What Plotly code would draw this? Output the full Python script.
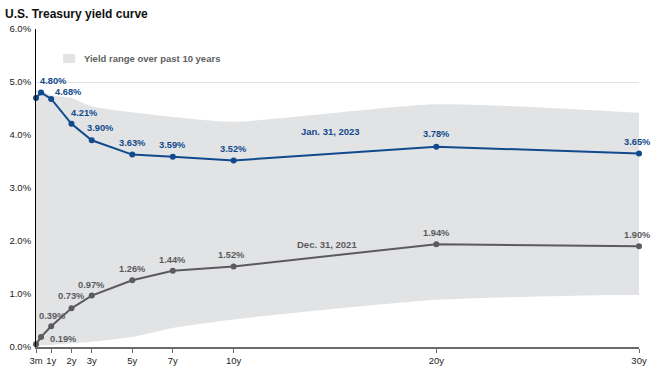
import plotly.graph_objects as go

# ---------------- data ----------------
maturities = [0.25, 0.5, 1, 2, 3, 5, 7, 10, 20, 30]
jan_2023 = [4.70, 4.80, 4.68, 4.21, 3.90, 3.63, 3.59, 3.52, 3.78, 3.65]
dec_2021 = [0.05, 0.19, 0.39, 0.73, 0.97, 1.26, 1.44, 1.52, 1.94, 1.90]
range_high = [4.85, 4.84, 4.75, 4.70, 4.54, 4.43, 4.34, 4.25, 4.58, 4.42]
range_low = [0.02, 0.03, 0.04, 0.07, 0.10, 0.19, 0.36, 0.52, 0.89, 0.99]

tick_vals = [0.25, 1, 2, 3, 5, 7, 10, 20, 30]
tick_text = ["3m", "1y", "2y", "3y", "5y", "7y", "10y", "20y", "30y"]
y_tick_vals = [0, 1, 2, 3, 4, 5, 6]
y_tick_text = ["0.0%", "1.0%", "2.0%", "3.0%", "4.0%", "5.0%", "6.0%"]

# ---------------- style ----------------
BLUE = "#114a8c"
GRAY = "#5b5b5d"
BAND = "#e2e3e5"
FONT = "Liberation Sans, Arial, sans-serif"

# label offsets (px) per point: (xshift, yshift); None -> no label
blue_offsets = [None, (12, 12), (17, 7), (13, 11), (9, 12), (0, 12), (0, 12), (0, 11), (0, 13), (-2, 12)]
gray_offsets = [None, (22, -2), (1, 10), (0, 12), (0, 11), (0, 11), (0, 11), (-2, 11), (0, 11), (-2, 11)]

fig = go.Figure()

fig.add_trace(go.Scatter(
    x=maturities, y=range_low, mode="lines",
    line=dict(width=0, color=BAND, shape="spline", smoothing=0.6),
    hoverinfo="skip", showlegend=False))
fig.add_trace(go.Scatter(
    x=maturities, y=range_high, mode="lines", fill="tonexty", fillcolor=BAND,
    line=dict(width=0, color=BAND, shape="spline", smoothing=0.6),
    hoverinfo="skip", showlegend=False))

fig.add_trace(go.Scatter(
    x=maturities, y=dec_2021, mode="lines+markers",
    line=dict(color=GRAY, width=2), marker=dict(color=GRAY, size=6),
    showlegend=False, cliponaxis=False))
fig.add_trace(go.Scatter(
    x=maturities, y=jan_2023, mode="lines+markers",
    line=dict(color=BLUE, width=2), marker=dict(color=BLUE, size=6),
    showlegend=False, cliponaxis=False))

annotations = []
for series, offsets, color in [(jan_2023, blue_offsets, BLUE), (dec_2021, gray_offsets, GRAY)]:
    for xv, yv, off in zip(maturities, series, offsets):
        if off is None:
            continue
        annotations.append(dict(
            x=xv, y=yv, xref="x", yref="y", text=f"{yv:.2f}%", showarrow=False,
            xshift=off[0], yshift=off[1],
            font=dict(family=FONT, size=9.3, color=color, weight="bold")))

annotations.append(dict(x=14.8, y=4.06, xref="x", yref="y", text="Jan. 31, 2023",
                        showarrow=False, font=dict(family=FONT, size=9.5, color=BLUE, weight="bold")))
annotations.append(dict(x=14.6, y=1.93, xref="x", yref="y", text="Dec. 31, 2021",
                        showarrow=False, font=dict(family=FONT, size=9.5, color=GRAY, weight="bold")))

# legend text
annotations.append(dict(x=0.0764, y=0.907, xref="paper", yref="paper", xanchor="left",
                        yanchor="middle", text="Yield range over past 10 years", showarrow=False,
                        font=dict(family=FONT, size=9.5, color="#5f5f61", weight="bold")))

fig.update_layout(
    width=654, height=372,
    margin=dict(l=36, r=15, t=29, b=25),
    paper_bgcolor="white", plot_bgcolor="white",
    font=dict(family=FONT, size=9.5, color="#222"),
    title=dict(text="<b>U.S. Treasury yield curve</b>", x=5 / 654, xref="container", xanchor="left",
               y=1 - 14 / 372, yanchor="middle", yref="container",
               font=dict(family=FONT, size=12, color="#111")),
    annotations=annotations,
    shapes=[dict(type="rect", xref="paper", yref="paper", x0=0.045, x1=0.065, y0=0.893, y1=0.921,
                 fillcolor=BAND, line=dict(width=0))],
    xaxis=dict(range=[0.25, 30], tickvals=tick_vals, ticktext=tick_text, automargin=False,
               showgrid=False, zeroline=False, showline=True, linecolor="#6a6a6a", linewidth=2,
               ticks="outside", ticklen=4, tickcolor="#6a6a6a", tickwidth=1,
               tickfont=dict(family=FONT, size=9.5, color="#222")),
    yaxis=dict(range=[0, 6], tickvals=y_tick_vals, ticktext=y_tick_text, automargin=False,
               showgrid=True, gridcolor="#e3e3e3", gridwidth=1, zeroline=False,
               showline=True, linecolor="#000", linewidth=1, ticks="", ticklabelstandoff=2,
               tickfont=dict(family=FONT, size=9.5, color="#222")),
)

fig.write_html("out.html", config={"displayModeBar": False},
               post_script="document.body.style.margin='0';")
